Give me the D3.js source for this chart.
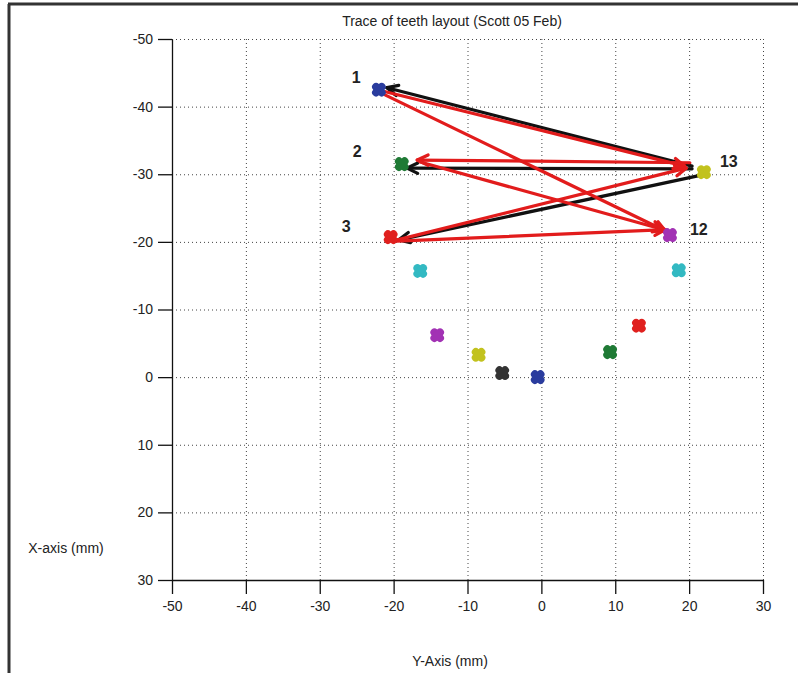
<!DOCTYPE html>
<html><head><meta charset="utf-8">
<script src="https://cdn.jsdelivr.net/npm/d3@7"></script>
<style>
body{margin:0;background:#fff;}
svg text{font-family:"Liberation Sans",Arial,sans-serif;fill:#222;}
</style></head>
<body><svg id="c" width="798" height="673"></svg>
<script>
// Teeth points: horizontal value ("Y-Axis (mm)") and vertical value ("X-axis (mm)")
const pointH = [-22.0, -18.9, -20.4, 17.4, 22.0, -16.4, 18.6, -14.1, -8.5, -5.3, -0.5, 9.3, 13.2];
const pointV = [-42.5, -31.5, -20.7, -21.0, -30.3, -15.7, -15.8, -6.2, -3.3, -0.6, 0.0, -3.7, -7.6];
const pointColors = ["#2a3c9e", "#1f7a35", "#e0201e", "#a232b4", "#c2c21e", "#33b9c2", "#33b9c2", "#a232b4", "#c2c21e", "#333333", "#2a3c9e", "#1f7a35", "#e0201e"];
const pointLabels = ["1", "2", "3", "12", "13", "", "", "", "", "", "", "", ""];

// Arrows (data coords): from (h,v) to (h,v)
const blackFromH = [20.4, 20.4, 21.8];
const blackFromV = [-31.2, -30.8, -29.9];
const blackToH = [-20.9, -18.2, -19.3];
const blackToV = [-42.8, -30.9, -20.3];

const redFromH = [-21.1, -21.1, 20.1, -16.4, -19.5, -19.5];
const redFromV = [-42.2, -41.7, -31.7, -31.8, -20.3, -20.1];
const redToH = [19.4, 16.8, -16.8, 16.6, 19.6, 16.8];
const redToV = [-31.2, -21.6, -32.1, -21.8, -30.9, -21.8];

const xTicks = [-50, -40, -30, -20, -10, 0, 10, 20, 30];
const yTicks = [-50, -40, -30, -20, -10, 0, 10, 20, 30];

const svg = d3.select("#c");
const x = d3.scaleLinear().domain([-50, 30]).range([172, 763]);
const y = d3.scaleLinear().domain([-50, 30]).range([39, 580]);

// outer frame (top and left edges)
svg.append("line").attr("x1", 8).attr("x2", 798).attr("y1", 4).attr("y2", 4).attr("stroke", "#333").attr("stroke-width", 3);
svg.append("line").attr("x1", 9).attr("x2", 9).attr("y1", 4).attr("y2", 673).attr("stroke", "#333").attr("stroke-width", 3);

// grid
const grid = svg.append("g").attr("stroke", "#444").attr("stroke-width", 1).attr("stroke-dasharray", "1,3");
grid.selectAll(".gx").data(xTicks.slice(1)).join("line")
  .attr("x1", d => x(d) + 0.5).attr("x2", d => x(d) + 0.5).attr("y1", y(-50)).attr("y2", y(30));
grid.selectAll(".gy").data(yTicks.slice(0, -1)).join("line")
  .attr("y1", d => y(d) + 0.5).attr("y2", d => y(d) + 0.5).attr("x1", x(-50)).attr("x2", x(30));

// axes
const fmt = d => String(d);
const xAxis = svg.append("g").attr("transform", `translate(0,${y(30)})`)
  .call(d3.axisBottom(x).tickValues(xTicks).tickFormat(fmt).tickSize(14).tickSizeOuter(0).tickPadding(7));
const yAxis = svg.append("g").attr("transform", `translate(${x(-50)},0)`)
  .call(d3.axisLeft(y).tickValues(yTicks).tickFormat(fmt).tickSize(14).tickSizeOuter(0).tickPadding(5));
[xAxis, yAxis].forEach(a => {
  a.select(".domain").attr("stroke", "#111").attr("stroke-width", 1.3);
  a.selectAll(".tick line").attr("stroke", "#111").attr("stroke-width", 1.3);
  a.selectAll("text").style("font-size", "14px").attr("fill", "#333");
});

// arrows
function arrow(g, h1, v1, h2, v2, color, w) {
  const X1 = x(h1), Y1 = y(v1), X2 = x(h2), Y2 = y(v2);
  const ang = Math.atan2(Y2 - Y1, X2 - X1);
  const L = 12, a = 0.45;
  g.append("line").attr("x1", X1).attr("y1", Y1).attr("x2", X2).attr("y2", Y2)
    .attr("stroke", color).attr("stroke-width", w).attr("stroke-linecap", "round");
  [ang + Math.PI - a, ang + Math.PI + a].forEach(t => {
    g.append("line").attr("x1", X2).attr("y1", Y2)
      .attr("x2", X2 + L * Math.cos(t)).attr("y2", Y2 + L * Math.sin(t))
      .attr("stroke", color).attr("stroke-width", w).attr("stroke-linecap", "round");
  });
}
const ag = svg.append("g");
blackFromH.forEach((d, i) => arrow(ag, blackFromH[i], blackFromV[i], blackToH[i], blackToV[i], "#111", 3.2));
redFromH.forEach((d, i) => arrow(ag, redFromH[i], redFromV[i], redToH[i], redToV[i], "#e21c1c", 3.2));

// markers (thick blobby X)
const mg = svg.append("g");
pointH.forEach((h, i) => {
  const cx = x(h), cy = y(pointV[i]);
  const g = mg.append("g").attr("transform", `translate(${cx},${cy})`)
    .attr("stroke", pointColors[i]).attr("stroke-width", 8).attr("stroke-linecap", "round");
  g.append("line").attr("x1", -2.8).attr("y1", -2.8).attr("x2", 2.8).attr("y2", 2.8);
  g.append("line").attr("x1", -2.8).attr("y1", 2.8).attr("x2", 2.8).attr("y2", -2.8);
});

// point labels
const labelDX = [-27, -49, -49, 20, 16];
const labelDY = [-7, -7, -5, 0, -5];
pointLabels.forEach((t, i) => {
  if (!t) return;
  svg.append("text").attr("x", x(pointH[i]) + labelDX[i]).attr("y", y(pointV[i]) + labelDY[i])
    .attr("text-anchor", "start").style("font-size", "16px").style("font-weight", "bold").attr("fill", "#111").text(t);
});

// title and axis labels
svg.append("text").attr("x", 452).attr("y", 26).attr("text-anchor", "middle").style("font-size", "14px").text("Trace of teeth layout (Scott 05 Feb)");
svg.append("text").attr("x", 450).attr("y", 666).attr("text-anchor", "middle").style("font-size", "14px").text("Y-Axis (mm)");
svg.append("text").attr("x", 66).attr("y", 553).attr("text-anchor", "middle").style("font-size", "14px").text("X-axis (mm)");
</script></body></html>
